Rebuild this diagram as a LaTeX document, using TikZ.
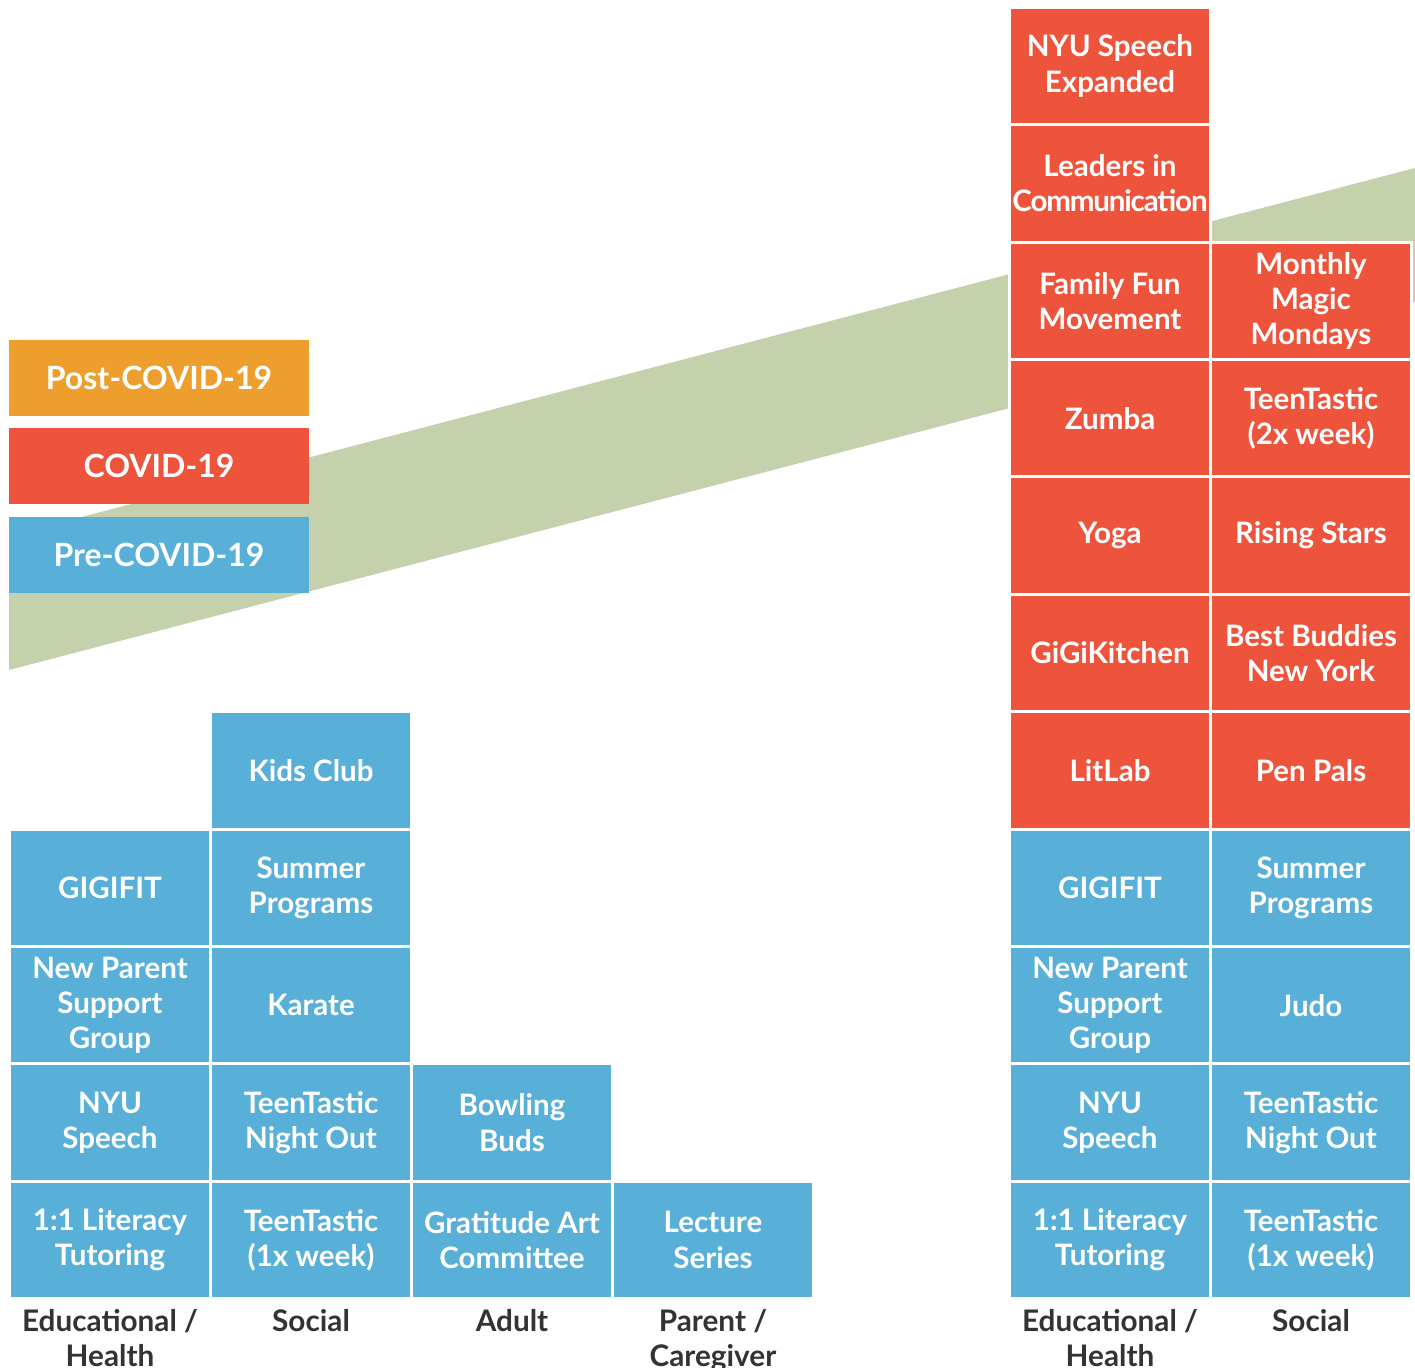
\documentclass[tikz,border=0pt]{standalone}
\usepackage{fontspec}
\setmainfont{Lato}
\newfontfamily\narrowlato[LetterSpace=-4]{Lato}
\definecolor{precovid}{HTML}{58B0D8}
\definecolor{covid}{HTML}{EE533B}
\definecolor{postcovid}{HTML}{EE9E2C}
\definecolor{band}{HTML}{C5D1AD}
\definecolor{labelgray}{HTML}{333333}
\tikzset{
  cell/.style={draw=white,line width=0.03cm,minimum width=2.01cm,minimum height=1.174cm,
    inner sep=0pt,text=white,align=center,font=\fontsize{8.4}{10}\selectfont\bfseries},
  legendbox/.style={minimum width=3cm,minimum height=0.76cm,inner sep=0pt,
    text=white,font=\fontsize{9.1}{10}\selectfont\bfseries},
  category/.style={anchor=north,inner sep=0pt,text=labelgray,align=center,
    font=\fontsize{8.45}{10}\selectfont\bfseries}
}
\begin{document}
\begin{tikzpicture}[x=0.01cm,y=-0.01cm]
    \useasboundingbox (0,0) rectangle (1415,1368);

    % growth band
    \fill[band] (9,536) -- (1415,168) -- (1415,302) -- (9,670) -- cycle;

    % legend
    \node[legendbox,fill=postcovid] (post) at (159,378) {Post-COVID-19};
    \node[legendbox,fill=covid] (covid) at (159,466) {COVID-19};
    \node[legendbox,fill=precovid] (pre) at (159,555) {Pre-COVID-19};

    % Pre-COVID programs
    \foreach \t/\c [count=\i] in {
        {1:1 Literacy\\Tutoring}/precovid,
        {NYU\\Speech}/precovid,
        {New Parent\\Support\\Group}/precovid,
        GIGIFIT/precovid}{
      \node[cell,fill=\c] (pre-edu-\i) at (110,{1240-117.4*(\i-1)}) {\t};
    }
    \foreach \t/\c [count=\i] in {
        {TeenTastic\\(1x week)}/precovid,
        {TeenTastic\\Night Out}/precovid,
        Karate/precovid,
        {Summer\\Programs}/precovid,
        Kids Club/precovid}{
      \node[cell,fill=\c] (pre-soc-\i) at (311,{1240-117.4*(\i-1)}) {\t};
    }
    \foreach \t/\c [count=\i] in {
        {Gratitude Art\\Committee}/precovid,
        {Bowling\\Buds}/precovid}{
      \node[cell,fill=\c] (pre-adult-\i) at (512,{1240-117.4*(\i-1)}) {\t};
    }
    \node[cell,fill=precovid] (pre-parent-1) at (713,1240) {Lecture\\Series};

    \node[category] (cat-edu) at (110,1309) {Educational /\\Health};
    \node[category] (cat-soc) at (311,1309) {Social};
    \node[category] (cat-adult) at (512,1309) {Adult};
    \node[category] (cat-parent) at (713,1309) {Parent /\\Caregiver};

    % COVID-19 programs
    \foreach \t/\c [count=\i] in {
        {1:1 Literacy\\Tutoring}/precovid,
        {NYU\\Speech}/precovid,
        {New Parent\\Support\\Group}/precovid,
        GIGIFIT/precovid,
        LitLab/covid,
        GiGiKitchen/covid,
        Yoga/covid,
        Zumba/covid,
        {Family Fun\\Movement}/covid,
        {Leaders in\\{\narrowlato\bfseries Communication}}/covid,
        {NYU Speech\\Expanded}/covid}{
      \node[cell,fill=\c] (cov-edu-\i) at (1110,{1240-117.4*(\i-1)}) {\t};
    }
    \foreach \t/\c [count=\i] in {
        {TeenTastic\\(1x week)}/precovid,
        {TeenTastic\\Night Out}/precovid,
        Judo/precovid,
        {Summer\\Programs}/precovid,
        Pen Pals/covid,
        {Best Buddies\\New York}/covid,
        Rising Stars/covid,
        {TeenTastic\\(2x week)}/covid,
        {Monthly\\Magic\\Mondays}/covid}{
      \node[cell,fill=\c] (cov-soc-\i) at (1311,{1240-117.4*(\i-1)}) {\t};
    }

    \node[category] (cat-edu2) at (1110,1309) {Educational /\\Health};
    \node[category] (cat-soc2) at (1311,1309) {Social};

  \end{tikzpicture}
\end{document}
